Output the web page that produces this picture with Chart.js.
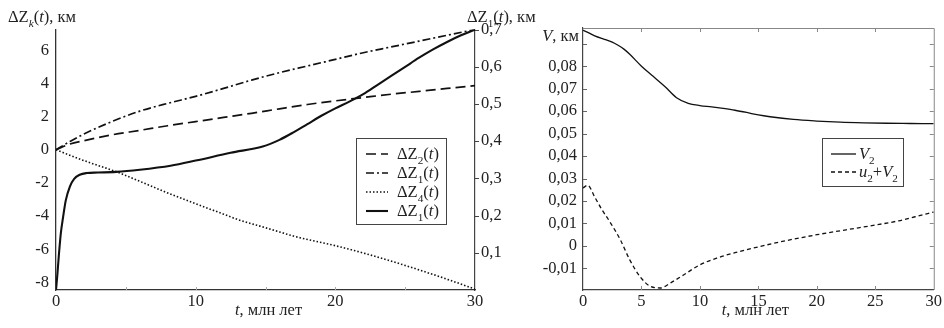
<!DOCTYPE html>
<html><head><meta charset="utf-8">
<script src="https://cdn.jsdelivr.net/npm/chart.js@4.4.1/dist/chart.umd.min.js"></script>
<style>
html,body{margin:0;padding:0;background:#fff;}
#wrap{position:relative;width:944px;height:328px;overflow:hidden;}
#c1{position:absolute;left:0;top:0;}
#c2{position:absolute;left:530px;top:0;}
</style></head>
<body><div id="wrap"><canvas id="c1" width="545" height="328"></canvas><canvas id="c2" width="414" height="328"></canvas></div>
<script>
// ---------- DATA: left chart ----------
const T_Z2 = [0, 1, 2, 4, 6, 8, 10, 12, 14, 16, 18, 20, 22, 24, 26, 28, 30];
const Z2   = [0, 0.35, 0.55, 0.9, 1.17, 1.45, 1.7, 1.95, 2.2, 2.47, 2.73, 2.95, 3.15, 3.35, 3.52, 3.7, 3.87];
const T_Z1A = [0, 1, 2, 4, 6, 8, 10, 12, 14, 16, 18, 20, 22, 24, 26, 28, 30];
const Z1A   = [0, 0.5, 0.95, 1.7, 2.33, 2.8, 3.22, 3.7, 4.2, 4.65, 5.05, 5.45, 5.85, 6.2, 6.55, 6.9, 7.25];
const T_Z4 = [0, 2, 4.4, 6, 8, 10, 12, 13, 14.6, 16, 17, 20, 22, 25, 28, 30];
const Z4   = [0, -0.65, -1.35, -1.9, -2.6, -3.25, -3.88, -4.2, -4.6, -4.95, -5.2, -5.78, -6.22, -6.97, -7.8, -8.4];
const T_Z1B = [0, 0.1, 0.2, 0.35, 0.5, 0.7, 1.0, 1.3, 1.7, 2.2, 3, 4.3, 6, 8.2, 10, 12.5, 14.8, 16, 17, 18, 19, 20, 21, 22, 23, 24, 25, 26, 27, 28, 29, 30];
const Z1B   = [-8.45, -7.5, -6.4, -5.0, -4.1, -3.05, -2.2, -1.75, -1.5, -1.4, -1.37, -1.33, -1.2, -0.96, -0.65, -0.18, 0.2, 0.6, 1.05, 1.55, 2.05, 2.5, 2.9, 3.35, 3.9, 4.45, 5.0, 5.55, 6.05, 6.5, 6.9, 7.25];
const XTICKS_L = [0, 10, 20, 30];
const YTICKS_L = [-8, -6, -4, -2, 0, 2, 4, 6];
const Y2TICKS_L = [0.1, 0.2, 0.3, 0.4, 0.5, 0.6, 0.7];

// ---------- DATA: right chart ----------
const T_V2 = [0, 0.5, 1, 2, 2.5, 3, 3.5, 4, 5, 6, 7, 8, 9, 10, 11, 12, 13, 14, 15, 16, 18, 20, 22, 24, 26, 28, 30];
const V2   = [0.096, 0.0948, 0.0935, 0.0917, 0.0907, 0.0893, 0.0876, 0.0853, 0.080, 0.0755, 0.071, 0.066, 0.0635, 0.0625, 0.0619, 0.0612, 0.0604, 0.0594, 0.0583, 0.0575, 0.0563, 0.0556, 0.0551, 0.0548, 0.0546, 0.0545, 0.0544];
const T_UV = [0, 0.4, 1.0, 1.6, 2.3, 3.2, 4.0, 4.9, 5.7, 6.6, 7.5, 8.6, 10, 11.5, 13, 15, 17.5, 20, 22.5, 25, 27, 28.4, 30];
const UV   = [0.0258, 0.027, 0.0218, 0.0163, 0.0107, 0.0027, -0.0062, -0.0138, -0.0178, -0.0187, -0.0164, -0.0129, -0.0084, -0.0053, -0.003, -0.0004, 0.0025, 0.005, 0.0072, 0.0093, 0.0112, 0.013, 0.0151];
const XTICKS_R = [0, 5, 10, 15, 20, 25, 30];
const YTICKS_R = [-0.01, 0, 0.01, 0.02, 0.03, 0.04, 0.05, 0.06, 0.07, 0.08];
const YMARKS_R = [-0.01, 0, 0.01, 0.02, 0.03, 0.04, 0.05, 0.06, 0.07, 0.08, 0.09];

const FONT = '"Liberation Serif", "Times New Roman", serif';
const FS = 16.5;
const TXT = '#222';
const pts = (t, v) => t.map((x, i) => ({x: x, y: v[i]}));

function rich(ctx, parts, x, y, size, align) {
  const seg = parts.map(p => {
    const it = p[1].indexOf('i') >= 0, sb = p[1].indexOf('s') >= 0;
    const fs = sb ? size * 0.68 : size;
    const f = (it ? 'italic ' : '') + fs + 'px ' + FONT;
    ctx.font = f;
    return {t: p[0], f: f, w: ctx.measureText(p[0]).width, dy: sb ? size * 0.28 : 0};
  });
  const tot = seg.reduce((a, s) => a + s.w, 0);
  let cx = align === 'center' ? x - tot / 2 : (align === 'right' ? x - tot : x);
  ctx.textBaseline = 'alphabetic'; ctx.textAlign = 'left'; ctx.fillStyle = TXT;
  seg.forEach(s => { ctx.font = s.f; ctx.fillText(s.t, cx, y + s.dy); cx += s.w; });
}

const decor = {
  id: 'decor',
  afterDraw(chart, args, o) {
    const ctx = chart.ctx, ca = chart.chartArea;
    ctx.save();
    if (o.frame) {
      ctx.strokeStyle = o.frame; ctx.lineWidth = 1;
      ctx.beginPath();
      ctx.moveTo(ca.left, ca.top + 0.5); ctx.lineTo(ca.right + 0.5, ca.top + 0.5); ctx.lineTo(ca.right + 0.5, ca.bottom);
      ctx.stroke();
    }
    (o.ticks || []).forEach(it => {
      const sc = chart.scales[it.scale];
      ctx.strokeStyle = it.color; ctx.lineWidth = 1;
      it.values.forEach(v => {
        const p = Math.round(sc.getPixelForValue(v)) + 0.5;
        ctx.beginPath();
        if (it.side === 'top') { ctx.moveTo(p, ca.top); ctx.lineTo(p, ca.top + it.len); }
        if (it.side === 'bottom') { ctx.moveTo(p, ca.bottom); ctx.lineTo(p, ca.bottom - it.len); }
        if (it.side === 'left') { ctx.moveTo(ca.left, p); ctx.lineTo(ca.left + it.len, p); }
        if (it.side === 'right') { ctx.moveTo(ca.right, p); ctx.lineTo(ca.right - it.len, p); }
        if (it.side === 'rightOut') { ctx.moveTo(ca.right, p); ctx.lineTo(ca.right + it.len, p); }
        ctx.stroke();
      });
    });
    (o.texts || []).forEach(t => {
      let x = t.x, y = t.y;
      if (t.xc !== undefined) x = (ca.left + ca.right) / 2 + t.xc;
      if (t.yv !== undefined) y = chart.scales[t.ys].getPixelForValue(t.yv) + t.dy;
      rich(ctx, t.parts, x, y, t.size, t.align);
    });
    if (o.legend) {
      const L = o.legend;
      ctx.fillStyle = '#fff'; ctx.fillRect(L.x, L.y, L.w, L.h);
      ctx.strokeStyle = '#444'; ctx.lineWidth = 1;
      ctx.strokeRect(L.x + 0.5, L.y + 0.5, L.w, L.h);
      chart.data.datasets.forEach((ds, i) => {
        const ry = L.y + L.row0 + i * L.dy;
        ctx.save();
        ctx.strokeStyle = ds.borderColor; ctx.lineWidth = ds.borderWidth;
        ctx.setLineDash(ds.borderDash || []);
        ctx.beginPath(); ctx.moveTo(L.x + L.s0, ry - 5); ctx.lineTo(L.x + L.s1, ry - 5); ctx.stroke();
        ctx.restore();
        rich(ctx, ds.richLabel, L.x + L.tx, ry, L.size, 'left');
      });
    }
    ctx.restore();
  }
};

const fixTicks = arr => (s => { s.ticks = arr.map(v => ({value: v})); });
const tickFont = {family: FONT, size: FS};

// ---------- LEFT CHART ----------
new Chart(document.getElementById('c1'), {
  type: 'line',
  data: {datasets: [
    {label: 'ΔZ2(t)', richLabel: [['ΔZ', ''], ['2', 's'], ['(', ''], ['t', 'i'], [')', '']], data: pts(T_Z2, Z2), borderColor: '#111', borderWidth: 1.7, borderDash: [10, 5]},
    {label: 'ΔZ1(t)', richLabel: [['ΔZ', ''], ['1', 's'], ['(', ''], ['t', 'i'], [')', '']], data: pts(T_Z1A, Z1A), borderColor: '#111', borderWidth: 1.7, borderDash: [8, 3, 2, 3]},
    {label: 'ΔZ4(t)', richLabel: [['ΔZ', ''], ['4', 's'], ['(', ''], ['t', 'i'], [')', '']], data: pts(T_Z4, Z4), borderColor: '#111', borderWidth: 1.6, borderDash: [1.5, 2]},
    {label: 'ΔZ1(t)', richLabel: [['ΔZ', ''], ['1', 's'], ['(', ''], ['t', 'i'], [')', '']], data: pts(T_Z1B, Z1B), borderColor: '#111', borderWidth: 2.1, borderDash: []}
  ]},
  options: {
    responsive: false, animation: false, devicePixelRatio: 1,
    layout: {padding: {top: 29.5, left: 0, right: 0, bottom: 0}},
    elements: {point: {radius: 0}, line: {cubicInterpolationMode: 'monotone', fill: false}},
    plugins: {
      legend: {display: false}, tooltip: {enabled: false},
      decor: {
        ticks: [
          {scale: 'y2', values: Y2TICKS_L, side: 'rightOut', len: 4, color: '#444'},
          {scale: 'x', values: [5, 10, 15, 20, 25], side: 'bottom', len: 3, color: '#aaa'}
        ],
        texts: [
          {x: 8, y: 22, size: FS, align: 'left', parts: [['ΔZ', ''], ['k', 'is'], ['(', ''], ['t', 'i'], ['), км', '']]},
          {x: 467, y: 22, size: FS, align: 'left', parts: [['ΔZ', ''], ['1', 's'], ['(', ''], ['t', 'i'], ['), км', '']]},
          {xc: 3, y: 315, size: FS, align: 'center', parts: [['t', 'i'], [', млн лет', '']]}
        ],
        legend: {x: 356, y: 138, w: 90, h: 86, row0: 21, dy: 19, s0: 10, s1: 32, tx: 41, size: FS}
      }
    },
    scales: {
      x: {type: 'linear', min: 0, max: 30, afterBuildTicks: fixTicks(XTICKS_L), afterFit: s => { s.height = 38; },
          grid: {display: false, drawTicks: false}, border: {display: true, color: '#333', width: 1.3},
          ticks: {padding: 2, font: tickFont, color: TXT, maxRotation: 0, callback: v => String(v)}},
      y: {type: 'linear', position: 'left', min: -8.45, max: 7.25, afterBuildTicks: fixTicks(YTICKS_L), afterFit: s => { s.width = 56; },
          grid: {display: false, drawTicks: false}, border: {display: true, color: '#333', width: 1.3},
          ticks: {padding: 7, font: tickFont, color: TXT, callback: v => String(v)}},
      y2: {type: 'linear', position: 'right', min: 0, max: 0.7, afterBuildTicks: fixTicks(Y2TICKS_L), afterFit: s => { s.width = 70; },
          grid: {display: false, drawTicks: false}, border: {display: true, color: '#444', width: 1.2},
          ticks: {padding: 6, font: tickFont, color: TXT, callback: v => v.toFixed(1).replace('.', ',')}}
    }
  },
  plugins: [decor]
});

// ---------- RIGHT CHART ----------
new Chart(document.getElementById('c2'), {
  type: 'line',
  data: {datasets: [
    {label: 'V2', richLabel: [['V', 'i'], ['2', 's']], data: pts(T_V2, V2), borderColor: '#111', borderWidth: 1.3, borderDash: []},
    {label: 'u2+V2', richLabel: [['u', 'i'], ['2', 's'], ['+', ''], ['V', 'i'], ['2', 's']], data: pts(T_UV, UV), borderColor: '#111', borderWidth: 1.3, borderDash: [4, 3]}
  ]},
  options: {
    responsive: false, animation: false, devicePixelRatio: 1,
    layout: {padding: {top: 28, left: 0, right: 10, bottom: 0}},
    elements: {point: {radius: 0}, line: {cubicInterpolationMode: 'monotone', fill: false}},
    plugins: {
      legend: {display: false}, tooltip: {enabled: false},
      decor: {
        frame: '#888',
        ticks: [
          {scale: 'x', values: [5, 10, 15, 20, 25], side: 'top', len: 4, color: '#888'},
          {scale: 'x', values: [5, 10, 15, 20, 25], side: 'bottom', len: 4, color: '#888'},
          {scale: 'y', values: YMARKS_R, side: 'left', len: 4, color: '#666'},
          {scale: 'y', values: YMARKS_R, side: 'right', len: 4, color: '#888'}
        ],
        texts: [
          {x: 49, ys: 'y', yv: 0.09, dy: -3, size: FS, align: 'right', parts: [['V', 'i'], [', км', '']]},
          {xc: -3, y: 315, size: FS, align: 'center', parts: [['t', 'i'], [', млн лет', '']]}
        ],
        legend: {x: 292, y: 138, w: 81, h: 48, row0: 21, dy: 18, s0: 9, s1: 34, tx: 37, size: FS}
      }
    },
    scales: {
      x: {type: 'linear', min: 0, max: 30, afterBuildTicks: fixTicks(XTICKS_R), afterFit: s => { s.height = 38; },
          grid: {display: false, drawTicks: false}, border: {display: true, color: '#444', width: 1.2},
          ticks: {padding: 2, font: tickFont, color: TXT, maxRotation: 0, callback: v => String(v)}},
      y: {type: 'linear', position: 'left', min: -0.0196, max: 0.097, afterBuildTicks: fixTicks(YTICKS_R), afterFit: s => { s.width = 53; },
          grid: {display: false, drawTicks: false}, border: {display: true, color: '#444', width: 1.2},
          ticks: {padding: 6, font: tickFont, color: TXT, callback: v => (Math.abs(v) < 1e-9 ? '0' : v.toFixed(2).replace('.', ','))}}
    }
  },
  plugins: [decor]
});
</script>
</body></html>
